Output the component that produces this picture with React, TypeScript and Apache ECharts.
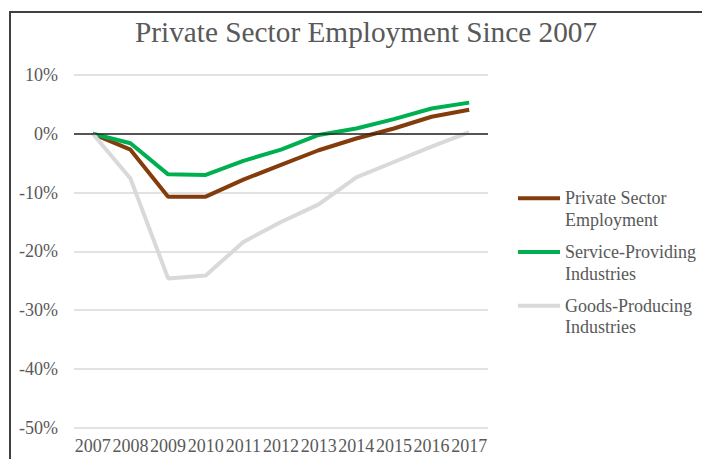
import React, { useEffect, useRef } from "react";
import * as echarts from "echarts";

const years = ["2007", "2008", "2009", "2010", "2011", "2012", "2013", "2014", "2015", "2016", "2017"];
const privateSector = [0, -2.7, -10.7, -10.7, -7.8, -5.3, -2.8, -0.8, 0.9, 2.9, 4.1];
const serviceProviding = [0, -1.6, -6.9, -7.0, -4.6, -2.7, -0.2, 0.9, 2.5, 4.3, 5.3];
const goodsProducing = [0, -7.6, -24.6, -24.1, -18.4, -15.0, -12.0, -7.4, -4.8, -2.2, 0.3];
const seriesNames = ["Private Sector\nEmployment", "Service-Providing\nIndustries", "Goods-Producing\nIndustries"];
const seriesColors = ["#843C0C", "#00B050", "#D9D9D9"];
const yTicks = { min: -50, max: 10, interval: 10 };

const FONT = "Liberation Serif, Times New Roman, serif";
const TEXT = "#595959";

export default function App() {
  const ref = useRef<HTMLDivElement>(null);
  useEffect(() => {
    document.body.style.margin = "0";
    const chart = echarts.init(ref.current!, null, { renderer: "svg" });
    const values = [privateSector, serviceProviding, goodsProducing];
    const legendTop = 198.3;
    const legendGap = 53.7;
    const legendGraphics: any[] = [];
    seriesNames.forEach((name, i) => {
      const cy = legendTop + i * legendGap;
      legendGraphics.push({
        type: "line",
        shape: { x1: 518, y1: cy, x2: 560, y2: cy },
        style: { stroke: seriesColors[i], lineWidth: 4 },
        silent: true,
      });
      legendGraphics.push({
        type: "text",
        x: 565,
        y: cy - 10.75,
        style: {
          text: name,
          fontFamily: FONT,
          fontSize: 18,
          fill: TEXT,
          lineHeight: 21.5,
          verticalAlign: "top",
          align: "left",
        },
        silent: true,
      });
    });
    chart.setOption({
      animation: false,
      backgroundColor: "#ffffff",
      title: {
        text: "Private Sector Employment Since 2007",
        left: 130,
        top: 12,
        textStyle: { fontFamily: FONT, fontSize: 29.3, fontWeight: "normal", color: TEXT },
      },
      graphic: [
        {
          type: "rect",
          shape: { x: 10, y: 12, width: 900, height: 700 },
          style: { fill: "none", stroke: "#404040", lineWidth: 2 },
          silent: true,
          z: 100,
        },
        ...legendGraphics,
      ],
      grid: { left: 74, right: 214, top: 75, bottom: 31.3, containLabel: false },
      xAxis: {
        type: "category",
        data: years,
        boundaryGap: true,
        axisLine: { show: false, onZero: false },
        axisTick: { show: false },
        axisLabel: { interval: 0, fontFamily: FONT, fontSize: 18, color: TEXT, margin: 9 },
      },
      yAxis: {
        type: "value",
        min: yTicks.min,
        max: yTicks.max,
        interval: yTicks.interval,
        axisLine: { show: false },
        axisTick: { show: false },
        axisLabel: { formatter: "{value}%", fontFamily: FONT, fontSize: 18, color: TEXT, margin: 16 },
        splitLine: { lineStyle: { color: "#D9D9D9", width: 1.5 } },
      },
      series: [
        {
          name: "zero",
          type: "line",
          data: [],
          z: 1,
          markLine: {
            silent: true,
            symbol: "none",
            label: { show: false },
            lineStyle: { color: "#262626", width: 1.5, type: "solid" },
            data: [{ yAxis: 0 }],
          },
        },
        ...seriesNames.map((name, i) => ({
          name,
          type: "line",
          data: values[i],
          showSymbol: false,
          symbol: "none",
          lineStyle: { color: seriesColors[i], width: 4 },
          itemStyle: { color: seriesColors[i] },
          z: 2 + i,
        })),
      ],
    });
    return () => chart.dispose();
  }, []);
  return <div ref={ref} style={{ width: 702, height: 459 }} />;
}
